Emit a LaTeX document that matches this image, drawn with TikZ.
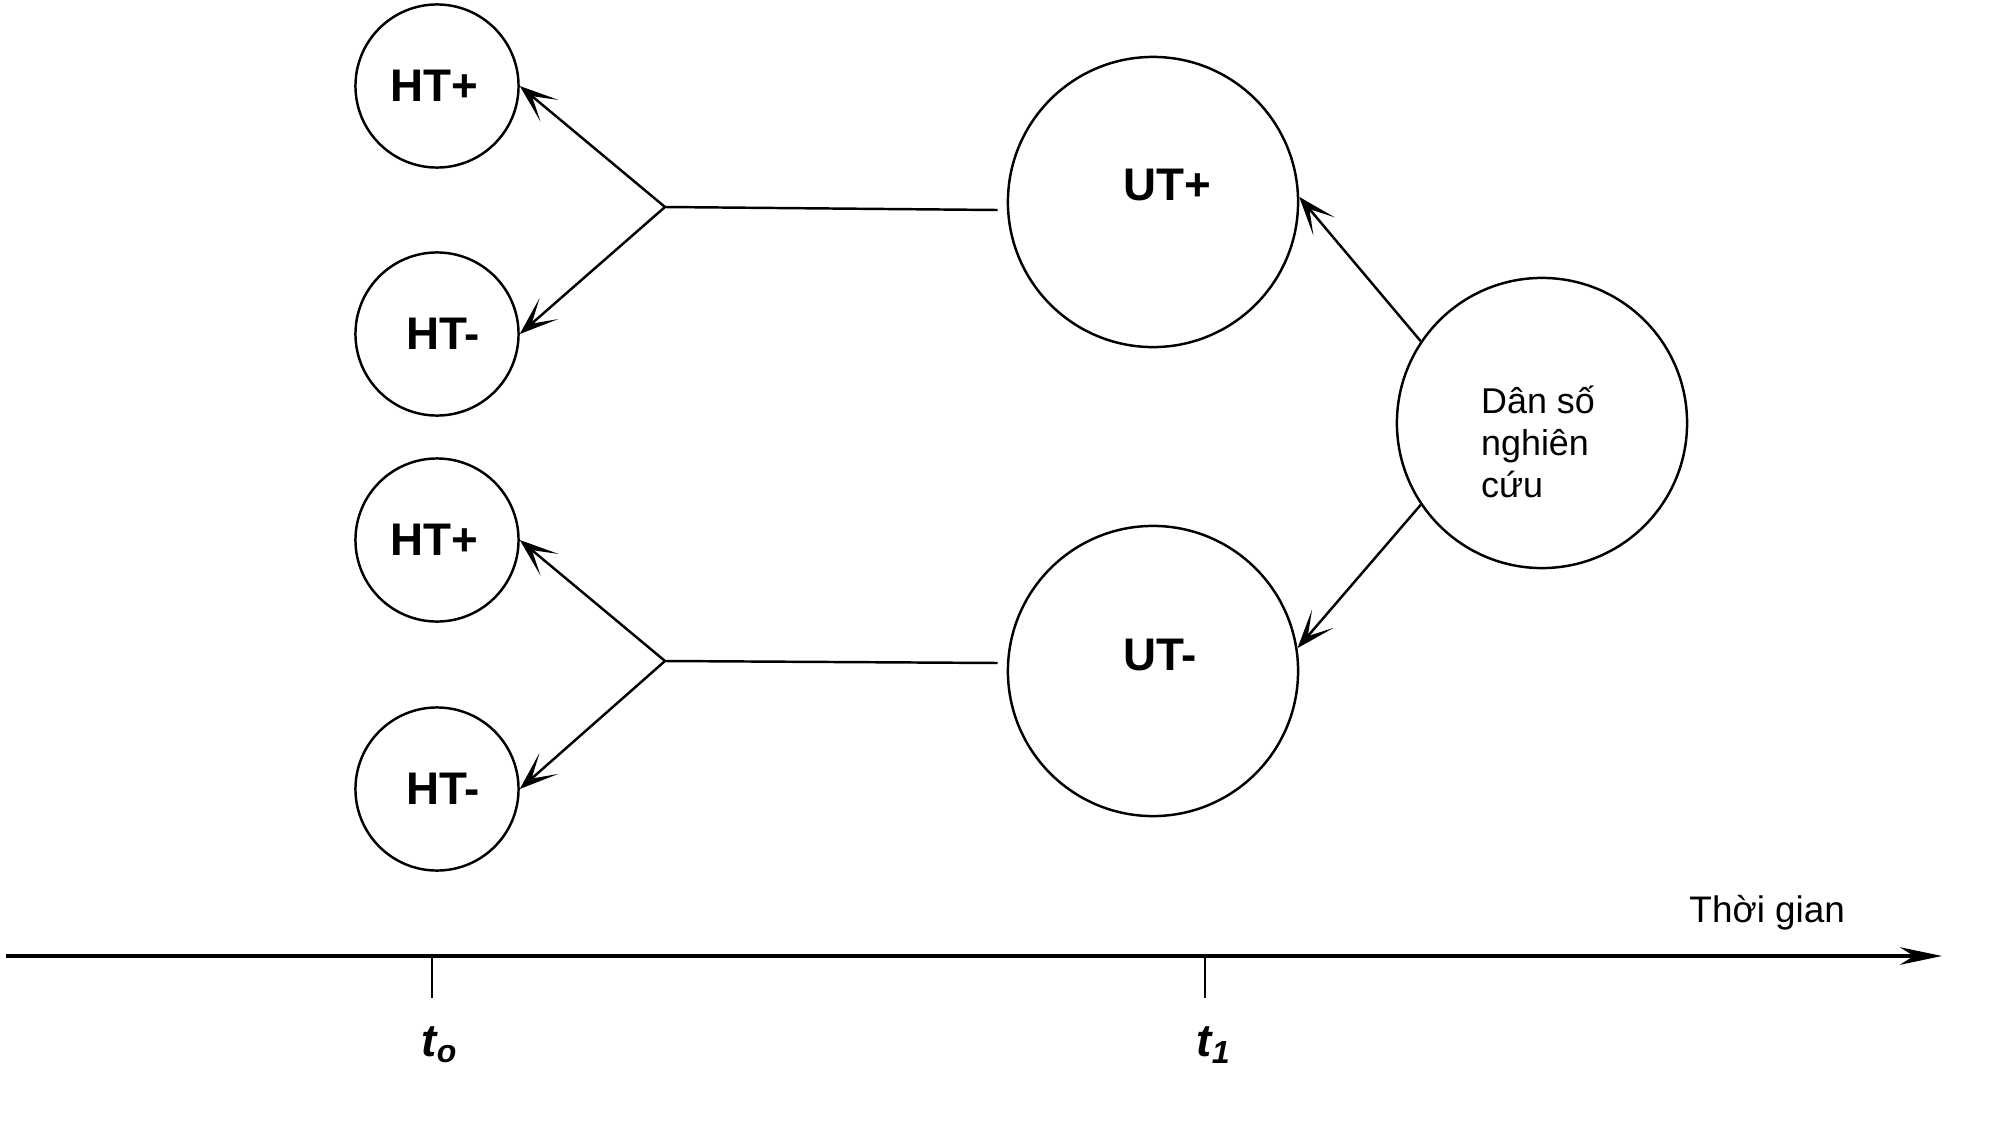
\documentclass[tikz,border=0pt]{standalone}
\usepackage{fontspec}
\setmainfont{Liberation Sans}
\usetikzlibrary{arrows.meta}
\begin{document}
\begin{tikzpicture}[x=0.01cm,y=-0.01cm,
  lbl/.style={font=\fontsize{13}{15}\selectfont\bfseries},
  small/.style={circle,draw,line width=0.7pt,minimum size=1.63cm,inner sep=0pt},
  big/.style={circle,draw,line width=0.7pt,minimum size=2.9cm,inner sep=0pt},
  conn/.style={line width=0.7pt},
  arr/.style={line width=0.7pt,-{Stealth[length=11pt,width=8pt,inset=6.5pt]}},
  dsfont/.style={font=\fontsize{10.2}{11.9}\selectfont}]
\useasboundingbox (0,0) rectangle (1993,1127);
% small circles
\node[small,label={[lbl,xshift=-0.03cm]center:HT+}] (HTa) at (437,86) {};
\node[small,label={[lbl,xshift=0.06cm]center:HT-}] (HTb) at (437,334) {};
\node[small,label={[lbl,xshift=-0.03cm]center:HT+}] (HTc) at (437,540) {};
\node[small,label={[lbl,xshift=0.06cm]center:HT-}] (HTd) at (437,789) {};
% big circles
\node[big,label={[lbl,xshift=0.14cm,yshift=0.17cm]center:UT+}] (UTp) at (1153,202) {};
\node[big,label={[lbl,xshift=0.07cm,yshift=0.16cm]center:UT-}] (UTm) at (1153,671) {};
\node[big,label={[dsfont,align=left,xshift=-0.04cm,yshift=-0.19cm]center:Dân số\\nghiên\\cứu}] (DS) at (1542,423) {};
% branch points
\coordinate (b1) at (665,207);
\coordinate (b2) at (665,661);
\draw[conn] (b1) -- ([xshift=-0.09cm,yshift=-0.08cm]UTp.west);
\draw[conn] (b2) -- ([xshift=-0.09cm,yshift=0.08cm]UTm.west);
\draw[arr] (b1) -- (HTa.east);
\draw[arr] (b1) -- (HTb.east);
\draw[arr] (b2) -- (HTc.east);
\draw[arr] (b2) -- (HTd.east);
\draw[arr] (DS.146) -- (UTp.2);
\draw[arr] (DS.214) -- (UTm.9);
% time axis
\coordinate (axL) at (6,956);
\coordinate (axR) at (1942,956);
\draw[line width=1pt,-{Stealth[length=12pt,width=5pt,inset=4pt]}] (axL) -- (axR);
\coordinate (t0) at (432,956);
\coordinate (t1) at (1205,956);
\draw[line width=0.6pt] (t0) -- ++(0,42);
\draw[line width=0.6pt] (t1) -- ++(0,42);
\node[lbl] (lt0) at (440,1045) {\itshape t\textsubscript{o}};
\node[lbl] (lt1) at (1214,1045) {\itshape t\textsubscript{1}};
\node[font=\fontsize{10.5}{12}\selectfont,anchor=base west] (time) at (1677,922) {Thời gian};
\end{tikzpicture}
\end{document}
